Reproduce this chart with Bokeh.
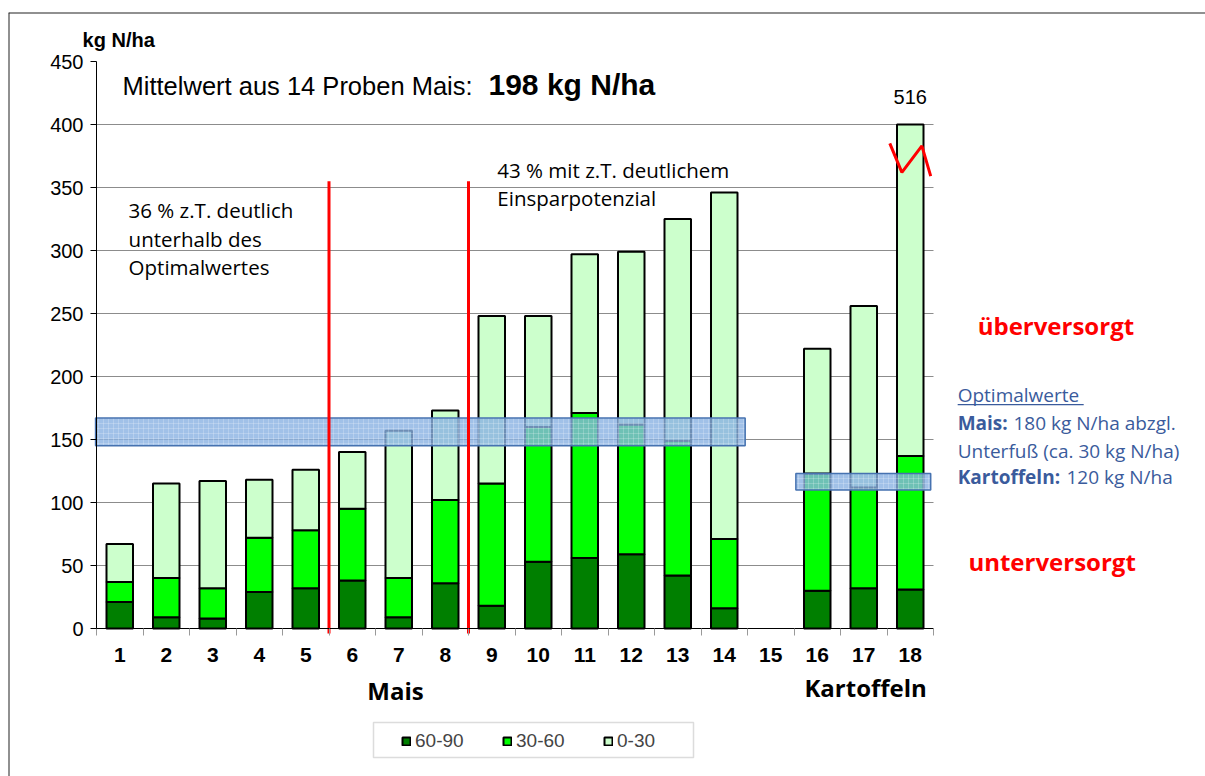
from bokeh.plotting import figure
from bokeh.models import (Range1d, FixedTicker, Label, Legend, LegendItem,
                          ColumnDataSource, BoxAnnotation, Span)
from bokeh.embed import file_html
from bokeh.resources import INLINE

# ---------------- data ----------------
categories = [str(i) for i in range(1, 19)]
n_60_90 = [21, 9, 8, 29, 32, 38, 9, 36, 18, 53, 56, 59, 42, 16, 0, 30, 32, 31]
n_30_60 = [16, 31, 24, 43, 46, 57, 31, 66, 97, 107, 115, 103, 107, 55, 0, 93, 80, 106]
n_0_30 = [30, 75, 85, 46, 48, 45, 117, 71, 133, 88, 126, 137, 176, 275, 0, 99, 144, 379]
series_names = ["60-90", "30-60", "0-30"]
series_colors = ["#007F00", "#00FF00", "#CCFFCC"]
y_ticks = [0, 50, 100, 150, 200, 250, 300, 350, 400, 450]
axis_cap = 400
mean_text = "Mittelwert aus 14 Proben Mais:"
mean_value = "198 kg N/ha"
band_mais = (145, 167)
band_kart = (110, 123)
divider_after = [5, 8]
divider_top = 355
break_dx = [-0.44, -0.18, 0.25, 0.44]
break_y = [385, 362, 383, 359]

ARIAL = "Liberation Sans"
CAL = "Open Sans"

xs = [i + 1 for i in range(len(categories))]
n = len(xs)
y_max = y_ticks[-1]

# ---------------- layout (pixels) ----------------
W, H = 1205, 776
FR_L, FR_T = 8, 12            # frame (= outer border) top-left
AX_L, AX_R = 96, 933          # plot area left/right
AX_T, AX_B = 61, 628          # plot area top/bottom
ux = n / (AX_R - AX_L)        # data units per px
uy = y_max / (AX_B - AX_T)
x0, x1 = 0.5 - (AX_L - FR_L) * ux, n + 0.5 + (W - AX_R) * ux
y0, y1 = -(H - AX_B) * uy, y_max + (AX_T - FR_T) * uy

p = figure(width=W, height=H, output_backend="svg", toolbar_location=None,
           x_range=Range1d(x0, x1), y_range=Range1d(y0, y1),
           min_border_left=FR_L, min_border_top=FR_T, min_border_right=0,
           min_border_bottom=0)
p.title.visible = False
p.outline_line_color = None
p.background_fill_color = "white"
p.border_fill_color = "white"
# outer chart border (left and top edges visible in the reference)
p.add_layout(Span(location=x0, dimension="height", line_color="#222222", line_width=2))
p.add_layout(Span(location=y1, dimension="width", line_color="#222222", line_width=2))

# axes
p.yaxis.fixed_location = 0.5
p.yaxis.bounds = (0, y_max)
p.yaxis.ticker = FixedTicker(ticks=y_ticks)
p.yaxis.major_label_text_font = ARIAL
p.yaxis.major_label_text_font_size = "20px"
p.yaxis.major_label_text_color = "black"
p.yaxis.axis_line_color = "black"
p.yaxis.major_tick_line_color = "black"
p.yaxis.major_tick_in = 0
p.yaxis.major_tick_out = 6
p.yaxis.minor_tick_line_color = None
p.yaxis.major_label_standoff = 7

p.xaxis.fixed_location = 0
p.xaxis.bounds = (0.5, n + 0.5)
p.xaxis.ticker = FixedTicker(ticks=xs, minor_ticks=[x - 0.5 for x in xs] + [xs[-1] + 0.5])
p.xaxis.major_label_overrides = {x: c for x, c in zip(xs, categories)}
p.xaxis.major_label_text_font = ARIAL
p.xaxis.major_label_text_font_style = "bold"
p.xaxis.major_label_text_font_size = "21px"
p.xaxis.major_label_text_color = "black"
p.xaxis.major_tick_line_color = None
p.xaxis.minor_tick_line_color = "#999999"
p.xaxis.minor_tick_in = 0
p.xaxis.minor_tick_out = 7
p.xaxis.axis_line_color = "black"
p.xaxis.major_label_standoff = 12

p.xgrid.visible = False
p.ygrid.ticker = FixedTicker(ticks=y_ticks[1:-1])
p.ygrid.cross_bounds = (0.5, n + 0.5)
p.ygrid.grid_line_color = "#8c8c8c"
p.ygrid.grid_line_width = 1

# stacked bars
renderers = []
cum = [0] * n
for name, vals, col in zip(series_names, [n_60_90, n_30_60, n_0_30], series_colors):
    bx, bb, bt = [], [], []
    for i, v in enumerate(vals):
        b = cum[i]
        t = cum[i] + v
        cum[i] = t
        if v > 0:
            bx.append(xs[i])
            bb.append(min(b, axis_cap))
            bt.append(min(t, axis_cap))
    src = ColumnDataSource(dict(x=bx, bottom=bb, top=bt))
    r = p.vbar(x="x", bottom="bottom", top="top", width=0.57, source=src,
               fill_color=col, line_color="black", line_width=2)
    renderers.append((name, r))

totals = cum

# optimal bands
mais_end = categories.index("14") + 1 + 0.45
kart_start = categories.index("16") + 1 - 0.46
p.quad(left=[0.48, kart_start], right=[mais_end, n + 0.44],
       bottom=[band_mais[0], band_kart[0]], top=[band_mais[1], band_kart[1]],
       fill_color="#8AB2E2", fill_alpha=0.8, line_color="#4672B0", line_width=1.5,
       hatch_pattern="+", hatch_color="white", hatch_alpha=0.35, hatch_scale=5,
       hatch_weight=0.6)

# red dividers
p.segment(x0=[d + 0.5 for d in divider_after], x1=[d + 0.5 for d in divider_after],
          y0=[-4] * len(divider_after), y1=[divider_top] * len(divider_after),
          line_color="#FF0000", line_width=3)

# break marker on bar 18
x18 = categories.index("18") + 1
p.line(x=[x18 + d for d in break_dx], y=break_y, line_color="#FF0000", line_width=3)

def lab(x, y, text, font=ARIAL, size="19px", style="normal", color="black",
        align="left"):
    p.add_layout(Label(x=x, y=y, text=text, text_font=font, text_font_size=size,
                       text_font_style=style, text_color=color, text_align=align,
                       text_baseline="middle"))

lab(0.2, 467, "kg N/ha", style="bold", size="20px")
lab(1.06, 430.5, mean_text, size="25.5px")
lab(8.93, 432, mean_value, size="30px", style="bold")
lab(x18, 421.8, str(totals[x18 - 1]), size="20px", align="center")

lab(1.19, 332, "36 % z.T. deutlich", font=CAL, size="20.5px")
lab(1.19, 309.5, "unterhalb des", font=CAL, size="20.5px")
lab(1.19, 287, "Optimalwertes", font=CAL, size="20.5px")
lab(9.12, 363.7, "43 % mit z.T. deutlichem", font=CAL, size="20.5px")
lab(9.12, 341.7, "Einsparpotenzial", font=CAL, size="20.5px")

lab(19.45, 240.7, "überversorgt", font=CAL, size="24px", style="bold", color="#FF0000")
lab(19.25, 53.4, "unterversorgt", font=CAL, size="24px", style="bold", color="#FF0000")

blue = "#3A5B9C"
lab(19.02, 185, "Optimalwerte", font=CAL, size="19px", color=blue)
p.add_layout(BoxAnnotation(left=19.02, right=21.73, bottom=177.2, top=178.2,
                           fill_color=blue, fill_alpha=1, line_color=None))
lab(19.02, 163.3, "Mais:", font=CAL, size="19px", style="bold", color=blue)
lab(20.22, 163.3, "180 kg N/ha abzgl.", font=CAL, size="19px", color=blue)
lab(19.02, 141, "Unterfuß (ca. 30 kg N/ha)", font=CAL, size="19px", color=blue)
lab(19.02, 120.2, "Kartoffeln:", font=CAL, size="19px", style="bold", color=blue)
lab(21.36, 120.2, "120 kg N/ha", font=CAL, size="19px", color=blue)

lab(6.93, -49.6, "Mais", font=CAL, size="24px", style="bold", align="center")
lab(17.04, -47.2, "Kartoffeln", font=CAL, size="24px", style="bold", align="center")

# legend box (as in the reference) + legend entries
p.add_layout(BoxAnnotation(left=0.5 + (373 - AX_L) * ux, right=0.5 + (693 - AX_L) * ux,
                           top=(AX_B - 722) * uy, bottom=(AX_B - 757) * uy,
                           fill_color="white", fill_alpha=1,
                           line_color="#8a8a8a", line_width=1.5))
legend = Legend(items=[LegendItem(label=nm, renderers=[r]) for nm, r in renderers],
                orientation="horizontal", location=(393, 24),
                label_text_font=ARIAL, label_text_font_size="19px",
                glyph_width=10, glyph_height=10, label_standoff=4,
                label_width=60, spacing=27, padding=8,
                border_line_color=None, background_fill_alpha=0)
p.add_layout(legend, "center")

open("out.html", "w").write(file_html(p, INLINE))
